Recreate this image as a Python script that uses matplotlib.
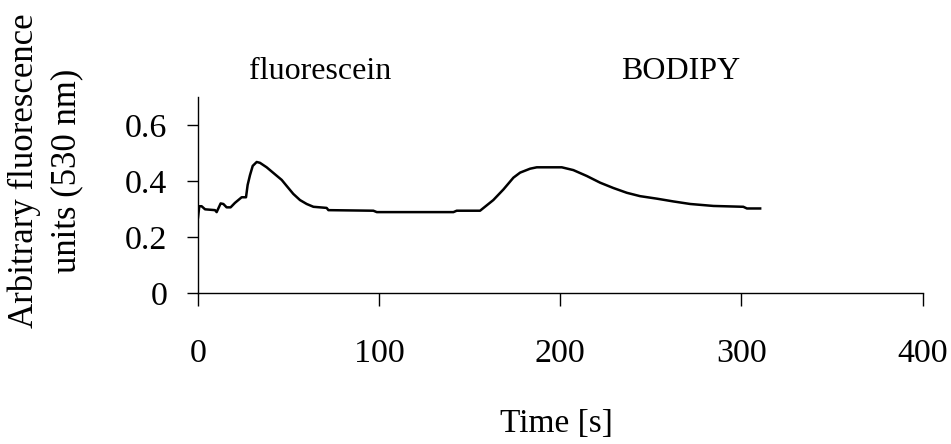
import matplotlib.pyplot as plt

plt.rcParams['font.family'] = ['Liberation Serif', 'DejaVu Serif']

# time [s] and fluorescence
time_s = [0, 0.7, 2, 3.9, 9.4, 10.3, 12.5, 14, 15.8, 18, 20.4, 24.1, 26.5, 27.4,
          28.7, 30.2, 32.4, 34.2, 37.9, 42.5, 46.2, 49, 52.6, 56.3, 60, 63.7,
          71, 72, 96.8, 98.7, 141, 142.8, 155.7, 163, 168.6, 174.1, 177.8,
          183.3, 187, 200.8, 207.2, 214.6, 222, 229.3, 236.7, 244, 253.3,
          262.5, 271.7, 284.5, 301, 303, 310.3]
signal = [0.27, 0.31, 0.31, 0.299, 0.296, 0.289, 0.32, 0.318, 0.306, 0.306,
          0.322, 0.342, 0.342, 0.386, 0.421, 0.454, 0.468, 0.465, 0.449, 0.424,
          0.404, 0.382, 0.354, 0.332, 0.318, 0.308, 0.304, 0.296, 0.294, 0.289,
          0.289, 0.294, 0.294, 0.332, 0.37, 0.412, 0.43, 0.444, 0.449, 0.449,
          0.439, 0.418, 0.394, 0.375, 0.358, 0.346, 0.337, 0.327, 0.318, 0.311,
          0.308, 0.302, 0.302]

x_ticks = [0, 100, 200, 300, 400]
y_ticks = [0, 0.2, 0.4, 0.6]
y_tick_labels = ['0', '0.2', '0.4', '0.6']

fig = plt.figure(figsize=(9.51, 4.44), dpi=100)
ax = fig.add_axes([0.2082, 0.34, 0.762, 0.4415])

ax.plot(time_s, signal, color='black', lw=1.8)

ax.set_xlim(0, 400)
ax.set_ylim(0, 0.7)
ax.set_xticks(x_ticks)
ax.set_yticks(y_ticks)
ax.set_yticklabels(y_tick_labels)
ax.tick_params(axis='x', direction='out', length=9, width=1, pad=24, labelsize=24.5)
ax.tick_params(axis='y', direction='out', length=8, width=1, pad=14, labelsize=24.5)
for side in ['top', 'right']:
    ax.spines[side].set_visible(False)
for side in ['left', 'bottom']:
    ax.spines[side].set_linewidth(1)

ax.text(67.4, 0.765, 'fluorescein', ha='center', va='baseline', fontsize=23)
ax.text(266.7, 0.765, 'BODIPY', ha='center', va='baseline', fontsize=23)

fig.text(0.585, 0.045, 'Time [s]', ha='center', va='center', fontsize=24)
# y label: two lines, both centred at the same height
fig.text(33 / 951, 1 - 171 / 444, 'Arbitrary fluorescence', rotation=90,
         rotation_mode='anchor', ha='center', va='baseline', fontsize=25)
fig.text(75 / 951, 1 - 171 / 444, 'units (530 nm)', rotation=90,
         rotation_mode='anchor', ha='center', va='baseline', fontsize=25)

fig.savefig('out.png', dpi=100)
